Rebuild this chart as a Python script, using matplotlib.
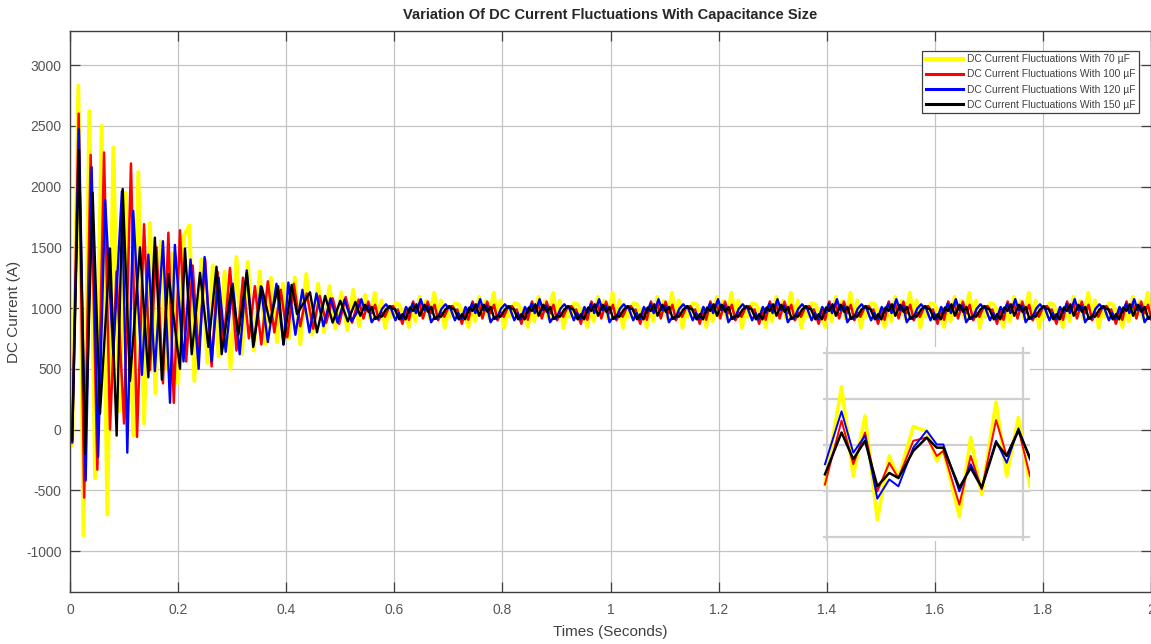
import numpy as np
import matplotlib
matplotlib.use("Agg")
import matplotlib.pyplot as plt

plt.rcParams["font.family"] = ["Liberation Sans", "DejaVu Sans"]
plt.rcParams["axes.unicode_minus"] = False

# transient extrema (time s, current A)
yel_t = [0, 0.004, 0.0154, 0.025, 0.0357, 0.0463, 0.0586, 0.069, 0.0802, 0.091, 0.103, 0.117,
         0.1264, 0.137, 0.148, 0.158, 0.168, 0.179, 0.190, 0.200, 0.211, 0.221, 0.230, 0.243,
         0.254, 0.264, 0.275, 0.286, 0.297, 0.308, 0.318, 0.329, 0.340, 0.351, 0.362, 0.372,
         0.383, 0.394, 0.405, 0.416, 0.426, 0.437, 0.448, 0.459, 0.470, 0.480, 0.491, 0.502,
         0.513, 0.524, 0.535, 0.546]
yel_v = [-40, -130, 2830, -870, 2620, -400, 2500, -700, 2320, 150, 1950, -50,
         2120, 50, 1700, 300, 1550, 500, 1450, 380, 1600, 1680, 400, 1400,
         550, 1350, 600, 1300, 500, 1420, 620, 1380, 650, 1300, 700, 1250,
         720, 1200, 750, 1250, 700, 1280, 780, 1200, 800, 1180, 830, 1130,
         820, 1150, 850, 1110]

red_t = [0, 0.004, 0.016, 0.0262, 0.0382, 0.0506, 0.063, 0.074, 0.086, 0.100, 0.1128, 0.124,
         0.137, 0.148, 0.160, 0.172, 0.182, 0.192, 0.2035, 0.215, 0.227, 0.238, 0.250, 0.262,
         0.273, 0.284, 0.296, 0.308, 0.320, 0.331, 0.342, 0.354, 0.366, 0.378, 0.390, 0.402,
         0.414, 0.426, 0.438, 0.450, 0.462, 0.474, 0.486, 0.498, 0.510, 0.522, 0.534]
red_v = [-40, -110, 2600, -560, 2260, -330, 2280, 0, 1300, 50, 2190, -60,
         1690, 490, 1500, 380, 1620, 220, 1640, 560, 1350, 600, 1400, 520,
         1300, 700, 1330, 650, 1250, 750, 1180, 700, 1220, 800, 1150, 760,
         1200, 850, 1120, 830, 1100, 880, 1080, 870, 1090, 880, 1070]

blu_t = [0, 0.004, 0.0166, 0.029, 0.040, 0.052, 0.065, 0.080, 0.096, 0.106, 0.117, 0.133,
         0.145, 0.157, 0.172, 0.185, 0.194, 0.210, 0.223, 0.238, 0.249, 0.262, 0.275, 0.288,
         0.301, 0.314, 0.327, 0.340, 0.353, 0.366, 0.382, 0.395, 0.404, 0.417, 0.430, 0.443,
         0.456, 0.469, 0.482, 0.495, 0.508, 0.521]
blu_v = [-40, -100, 2470, -420, 2160, -225, 1890, 620, 1960, -190, 1800, 450,
         1440, 480, 1550, 220, 1520, 560, 1400, 500, 1420, 560, 1250, 640,
         1200, 620, 1310, 700, 1180, 720, 1200, 700, 1210, 780, 1150, 800,
         1120, 850, 1080, 880, 1070, 890]

blk_t = [0, 0.004, 0.0166, 0.028, 0.0419, 0.0555, 0.074, 0.0863, 0.0975, 0.111, 0.1295, 0.1449,
         0.157, 0.170, 0.182, 0.2035, 0.2127, 0.2252, 0.2405, 0.256, 0.271, 0.2806, 0.299, 0.3115,
         0.327, 0.339, 0.355, 0.370, 0.385, 0.395, 0.410, 0.420, 0.444, 0.457, 0.472, 0.486, 0.500,
         0.514, 0.528]
blk_v = [-40, -90, 2300, -200, 1950, 130, 1490, -50, 1980, 400, 1500, 430,
         1580, 410, 1280, 500, 1490, 620, 1290, 680, 1340, 620, 1180, 780,
         1290, 680, 1170, 880, 1180, 700, 1190, 950, 1130, 800, 1100, 880, 1060,
         890, 1050]

# steady-state ripple window (as in the zoomed inset), repeats after ~0.55 s
pat_t = [0, 0.0089, 0.0152, 0.0215, 0.0281, 0.0345, 0.0394, 0.0474, 0.0546, 0.0600, 0.0635,
         0.0721, 0.0782, 0.0841, 0.0918, 0.0975, 0.1038, 0.1100]
pat_yel = [914, 1126, 932, 1063, 837, 976, 928, 1040, 1030, 965, 990, 844, 1016, 892, 1093, 932, 1060, 910]
pat_red = [914, 1053, 958, 1027, 899, 961, 928, 1009, 1016, 976, 987, 870, 976, 903, 1054, 976, 1034, 932]
pat_blu = [958, 1073, 983, 1020, 883, 925, 910, 994, 1031, 1001, 1001, 899, 958, 907, 1009, 961, 1036, 968]
pat_blk = [936, 1027, 969, 1009, 910, 939, 928, 987, 1016, 994, 994, 907, 950, 907, 1005, 976, 1031, 972]

labels = ["DC Current Fluctuations With 70 \u00b5F", "DC Current Fluctuations With 100 \u00b5F",
          "DC Current Fluctuations With 120 \u00b5F", "DC Current Fluctuations With 150 \u00b5F"]
colors = ["#FFFF00", "#FF0000", "#0000FF", "#000000"]
widths = [2.8, 1.8, 1.7, 1.7]


def full_series(tt, vv, pv):
    pt = np.array(pat_t[:-1]); per = pat_t[-1]
    t0 = tt[-1] + 0.009
    reps = int(np.ceil((2.05 - t0) / per))
    ts = np.concatenate([pt + t0 + k * per for k in range(reps)])
    vs = np.tile(np.array(pv[:-1]), reps)
    return np.concatenate([tt, ts]), np.concatenate([vv, vs])


series = [(yel_t, yel_v, pat_yel), (red_t, red_v, pat_red), (blu_t, blu_v, pat_blu), (blk_t, blk_v, pat_blk)]

fig = plt.figure(figsize=(11.51, 6.44), dpi=100)
ax = fig.add_axes([70 / 1151, 52 / 644, 1081 / 1151, 561 / 644])
for (tt, vv, pv), c, lw, lab in zip(series, colors, widths, labels):
    x, y = full_series(tt, vv, pv)
    ax.plot(x, y, color=c, lw=lw, label=lab)

ax.set_xlim(0, 2)
ax.set_ylim(-1337, 3280)
ax.set_xticks(np.arange(0, 2.01, 0.2))
ax.set_xticklabels(["0", "0.2", "0.4", "0.6", "0.8", "1", "1.2", "1.4", "1.6", "1.8", "2"])
ax.set_yticks(np.arange(-1000, 3001, 500))
ax.grid(True, color="#c4c4c4", lw=0.9)
ax.tick_params(direction="in", length=7, width=0.9, colors="#404040", labelcolor="#555555",
               labelsize=10, top=True, right=True)
ax.tick_params(axis="x", pad=8)
ax.tick_params(axis="y", pad=6)
for sp in ax.spines.values():
    sp.set_color("#404040"); sp.set_linewidth(1.0)
ax.set_xlabel("Times (Seconds)", fontsize=11, color="#404040", labelpad=6)
ax.set_ylabel("DC Current (A)", fontsize=11, color="#404040", labelpad=4)
ax.set_title("Variation Of DC Current Fluctuations With Capacitance Size", fontsize=10.5,
             fontweight="bold", color="#262626", pad=9)

leg = ax.legend(loc="upper right", bbox_to_anchor=(0.9935, 0.974), fontsize=7.4, handlelength=3.6,
                labelspacing=0.5, borderpad=0.35, handletextpad=0.4, fancybox=False,
                framealpha=1, edgecolor="#404040")
leg.get_frame().set_linewidth(0.9)
for h in leg.get_lines():
    h.set_linewidth(2.2)
leg.get_lines()[0].set_linewidth(3.0)
for t in leg.get_texts():
    t.set_color("#404040")

# zoomed inset of the steady-state ripple
ins = fig.add_axes([823 / 1151, 103 / 644, 207 / 1151, 194 / 644])
ins.set_facecolor("white")
for pv, c, lw in zip([pat_yel, pat_red, pat_blu, pat_blk], colors, [2.6, 1.4, 1.4, 1.8]):
    ins.plot(pat_t, pv, color=c, lw=lw)
ins.set_xlim(-0.00105, 0.1100)
ins.set_ylim(791, 1213)
ins.set_xticks([0.0009, 0.1061])
ins.set_yticks([800, 900, 1000, 1100, 1200])
ins.grid(True, color="#cfcfcf", lw=1.6)
ins.tick_params(length=0, labelbottom=False, labelleft=False)
for sp in ins.spines.values():
    sp.set_visible(False)
ins.set_axisbelow(True)

fig.savefig("out.png", dpi=100)
